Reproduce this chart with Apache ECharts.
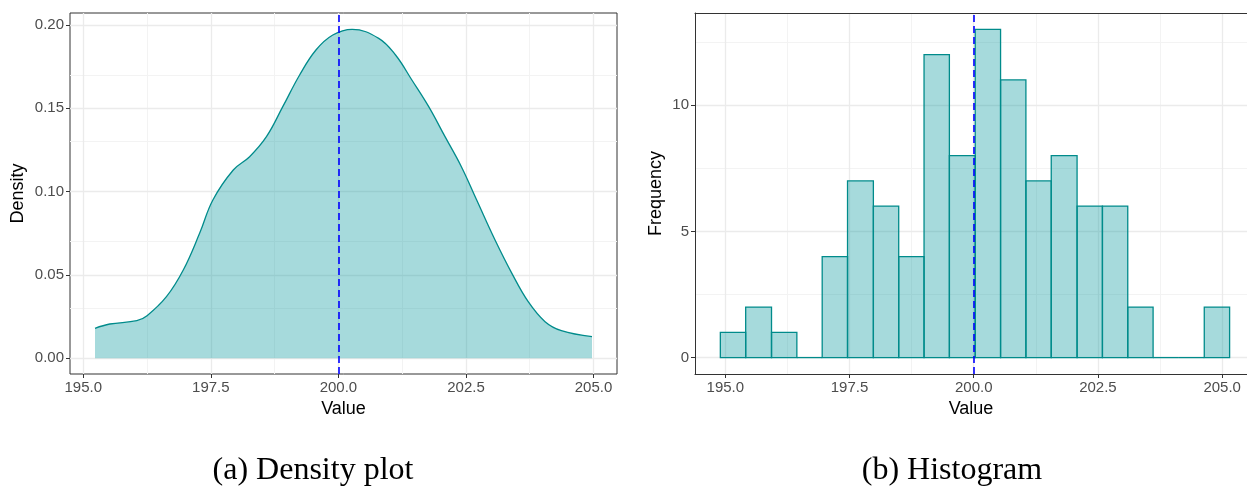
<!DOCTYPE html>
<html>
<head>
<meta charset="utf-8">
<title>Density plot and histogram</title>
<script src="https://cdn.jsdelivr.net/npm/echarts@6/dist/echarts.min.js"></script>
<style>
  html, body { margin: 0; padding: 0; background: #ffffff; }
  #chart { width: 1247px; height: 487px; }
</style>
</head>
<body>
<div id="chart"></div>
<script>
// Kernel density estimate of the sample (x in value units, y = density)
const densityX = [195.23, 195.52, 196.05, 196.25, 196.63, 196.96, 197.28, 197.54, 197.94, 198.26,
                  198.59, 198.91, 199.24, 199.56, 199.89, 200.27, 200.79, 201.12, 201.44, 201.77,
                  202.09, 202.41, 202.71, 203.07, 203.40, 203.72, 204.05, 204.37, 204.97];
const densityY = [0.0180, 0.0206, 0.0226, 0.0256, 0.0370, 0.0530, 0.0750, 0.0950, 0.1130, 0.1210,
                  0.1330, 0.1510, 0.1700, 0.1850, 0.1940, 0.1974, 0.1920, 0.1820, 0.1670, 0.1510,
                  0.1330, 0.1150, 0.0950, 0.0710, 0.0510, 0.0340, 0.0220, 0.0166, 0.0130];

// Histogram: 20 bins, edges and counts
const histEdges = [194.90, 195.41, 195.93, 196.44, 196.95, 197.46, 197.98, 198.49, 199.00, 199.51,
                   200.03, 200.54, 201.05, 201.56, 202.08, 202.59, 203.10, 203.61, 204.13, 204.64, 205.15];
const histCounts = [1, 2, 1, 0, 4, 7, 6, 4, 12, 8, 13, 11, 7, 8, 6, 6, 2, 0, 0, 2];

// Sample mean (dashed reference line)
const meanValue = 200.0;

// Tick positions
const valueTicks = [195, 197.5, 200, 202.5, 205];
const valueMinorTicks = [196.25, 198.75, 201.25, 203.75];
const densityTicks = [0, 0.05, 0.10, 0.15, 0.20];
const densityMinorTicks = [0.025, 0.075, 0.125, 0.175];
const freqTicks = [0, 5, 10];
const freqMinorTicks = [2.5, 7.5, 12.5];

// Axis extents (padding around the data; the histogram panel runs to the page edge)
const densityXRange = [194.74, 205.46];
const densityYRange = [-0.0094, 0.2072];
const histXRange = [194.39, 205.50];
const histYRange = [-0.65, 13.65];

const FONT = '"Liberation Sans", Arial, sans-serif';
const LINE = '#008b8b';
const FILL = 'rgba(0,150,155,0.35)';
const FRAME = '#333333';
const MAJOR = { color: '#ebebeb', width: 1.3, type: 'solid' };
const MINOR = { color: '#f3f3f3', width: 1, type: 'solid' };

function gridLines(xMajor, xMinor, yMajor, yMinor) {
  const d = [];
  xMinor.forEach(v => d.push({ xAxis: v, lineStyle: MINOR }));
  yMinor.forEach(v => d.push({ yAxis: v, lineStyle: MINOR }));
  xMajor.forEach(v => d.push({ xAxis: v, lineStyle: MAJOR }));
  yMajor.forEach(v => d.push({ yAxis: v, lineStyle: MAJOR }));
  return d;
}

function xAxisOf(gridIndex, range, ticks, nameGap, showLine) {
  return {
    type: 'value', gridIndex, min: range[0], max: range[1],
    name: 'Value', nameLocation: 'middle', nameGap,
    nameTextStyle: { fontFamily: FONT, fontSize: 18, color: '#000' },
    axisLine: { show: showLine, onZero: false, lineStyle: { color: FRAME, width: 1 } },
    splitLine: { show: false },
    axisTick: { show: true, customValues: ticks, length: 4, lineStyle: { color: FRAME, width: 1 } },
    axisLabel: { customValues: ticks, margin: 6, fontFamily: FONT, fontSize: 15, color: '#4d4d4d',
                 formatter: v => Number(v).toFixed(1) }
  };
}

function yAxisOf(gridIndex, range, ticks, name, nameGap, fmt, showLine) {
  return {
    type: 'value', gridIndex, min: range[0], max: range[1],
    name, nameLocation: 'middle', nameGap, nameRotate: 90,
    nameTextStyle: { fontFamily: FONT, fontSize: 18, color: '#000' },
    axisLine: { show: showLine, onZero: false, lineStyle: { color: FRAME, width: 1 } },
    splitLine: { show: false },
    axisTick: { show: true, customValues: ticks, length: 4, lineStyle: { color: FRAME, width: 1 } },
    axisLabel: { customValues: ticks, margin: 6, fontFamily: FONT, fontSize: 15, color: '#4d4d4d',
                 formatter: fmt }
  };
}

const meanLine = {
  silent: true, symbol: 'none', z: 6,
  label: { show: false },
  lineStyle: { color: '#0000ff', width: 1.6, type: [7, 4] },
  data: [{ xAxis: meanValue }]
};

function gridSeries(axisIndex, xMajor, xMinor, yMajor, yMinor) {
  return {
    type: 'line', xAxisIndex: axisIndex, yAxisIndex: axisIndex, data: [], z: 0, silent: true,
    markLine: { silent: true, symbol: 'none', z: 0, label: { show: false }, animation: false,
                data: gridLines(xMajor, xMinor, yMajor, yMinor) }
  };
}

const chart = echarts.init(document.getElementById('chart'), null, { renderer: 'canvas' });

chart.setOption({
  animation: false,
  backgroundColor: '#ffffff',
  grid: [
    { left: 70, top: 13, width: 547, height: 361, show: true, borderColor: FRAME, borderWidth: 1, backgroundColor: 'transparent' },
    // histogram panel is cut off by the right page edge: frame drawn by its axis lines
    { left: 695, top: 13, width: 552, height: 361, show: false }
  ],
  xAxis: [
    xAxisOf(0, densityXRange, valueTicks, 24, false),
    xAxisOf(1, histXRange, valueTicks, 24, true),
    {
      type: 'value', gridIndex: 1, position: 'top', min: histXRange[0], max: histXRange[1],
      axisLine: { show: true, onZero: false, lineStyle: { color: FRAME, width: 1 } },
      axisTick: { show: false }, axisLabel: { show: false }, splitLine: { show: false }
    }
  ],
  yAxis: [
    yAxisOf(0, densityYRange, densityTicks, 'Density', 43, v => Number(v).toFixed(2), false),
    yAxisOf(1, histYRange, freqTicks, 'Frequency', 30, v => String(Math.round(v)), true)
  ],
  graphic: [
    { type: 'text', x: 313, y: 471, style: { text: '(a) Density plot', font: '32px "Liberation Serif", serif', fill: '#000', align: 'center', verticalAlign: 'middle' } },
    { type: 'text', x: 952, y: 471, style: { text: '(b) Histogram', font: '32px "Liberation Serif", serif', fill: '#000', align: 'center', verticalAlign: 'middle' } }
  ],
  series: [
    gridSeries(0, valueTicks, valueMinorTicks, densityTicks, densityMinorTicks),
    gridSeries(1, valueTicks, valueMinorTicks, freqTicks, freqMinorTicks),
    {
      type: 'line', xAxisIndex: 0, yAxisIndex: 0, z: 3,
      data: densityX.map((x, i) => [x, densityY[i]]),
      smooth: 0.4, showSymbol: false, symbol: 'none',
      lineStyle: { color: LINE, width: 1.3 },
      areaStyle: { color: FILL, opacity: 1, origin: 0 },
      markLine: meanLine
    },
    {
      type: 'custom', xAxisIndex: 1, yAxisIndex: 1, z: 3,
      data: histCounts.map((c, i) => [histEdges[i], histEdges[i + 1], c]),
      encode: { x: [0, 1], y: 2 },
      renderItem: (params, api) => {
        const p0 = api.coord([api.value(0), 0]);
        const p1 = api.coord([api.value(1), api.value(2)]);
        if (api.value(2) === 0) {
          // empty bin: only the outline at zero is visible
          return {
            type: 'line',
            shape: { x1: p0[0], y1: p0[1], x2: p1[0], y2: p0[1] },
            style: { stroke: LINE, lineWidth: 1.3 }
          };
        }
        return {
          type: 'rect',
          shape: { x: p0[0], y: p1[1], width: p1[0] - p0[0], height: p0[1] - p1[1] },
          style: { fill: FILL, stroke: LINE, lineWidth: 1.3 }
        };
      },
      markLine: meanLine
    }
  ]
});
</script>
</body>
</html>
